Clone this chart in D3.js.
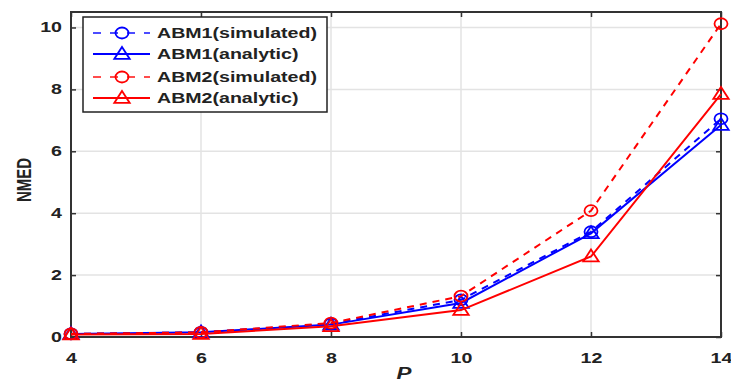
<!DOCTYPE html>
<html><head><meta charset="utf-8">
<script src="https://cdn.jsdelivr.net/npm/d3@7"></script>
<style>body{margin:0;background:#fff}svg{display:block}text{font-family:"Liberation Sans",Arial,sans-serif;font-weight:bold}</style>
</head><body><svg id="c" width="731" height="383"></svg>
<script>
const xValues = [4, 6, 8, 10, 12, 14];
const abm1Sim = [0.10, 0.15, 0.42, 1.20, 3.40, 7.05];
const abm1Ana = [0.10, 0.15, 0.40, 1.10, 3.35, 6.85];
const abm2Sim = [0.10, 0.15, 0.45, 1.32, 4.08, 10.12];
const abm2Ana = [0.08, 0.10, 0.35, 0.87, 2.60, 7.85];
const xTicks = [4, 6, 8, 10, 12, 14];
const yTicks = [0, 2, 4, 6, 8, 10];
const seriesNames = ["ABM1(simulated)", "ABM1(analytic)", "ABM2(simulated)", "ABM2(analytic)"];

const series = [
  {name: seriesNames[0], vals: abm1Sim, color: "#0000ff", dash: "7,6", marker: "circle"},
  {name: seriesNames[1], vals: abm1Ana, color: "#0000ff", dash: null, marker: "triangle"},
  {name: seriesNames[2], vals: abm2Sim, color: "#ff0000", dash: "7,6", marker: "circle"},
  {name: seriesNames[3], vals: abm2Ana, color: "#ff0000", dash: null, marker: "triangle"}
];

const SX = 1.4; // horizontal stretch of the text in the reference
const svg = d3.select("#c");
const L = 71, R = 721, T = 12, B = 337;
const x = d3.scaleLinear().domain([4, 14]).range([L, R]);
const y = d3.scaleLinear().domain([0, 10.5]).range([B, T]);

// grid
svg.append("g").selectAll("line").data(xTicks).join("line")
  .attr("x1", d => x(d)).attr("x2", d => x(d)).attr("y1", T).attr("y2", B)
  .attr("stroke", "#e3e3e3").attr("stroke-width", 1.5);
svg.append("g").selectAll("line").data(yTicks).join("line")
  .attr("x1", L).attr("x2", R).attr("y1", d => y(d)).attr("y2", d => y(d))
  .attr("stroke", "#e3e3e3").attr("stroke-width", 1.5);

// axes
const gx = svg.append("g").attr("transform", `translate(0,${B})`)
  .call(d3.axisBottom(x).tickValues(xTicks).tickSize(-5).tickPadding(16).tickFormat(d3.format("d")));
const gy = svg.append("g").attr("transform", `translate(${L},0)`)
  .call(d3.axisLeft(y).tickValues(yTicks).tickSize(-5).tickPadding(9).tickFormat(d3.format("d")));
const gxt = svg.append("g").attr("transform", `translate(0,${T})`)
  .call(d3.axisTop(x).tickValues(xTicks).tickSize(-5).tickFormat(""));
const gyr = svg.append("g").attr("transform", `translate(${R},0)`)
  .call(d3.axisRight(y).tickValues(yTicks).tickSize(-5).tickFormat(""));
[gx, gy, gxt, gyr].forEach(g => {
  g.select(".domain").remove();
  g.selectAll(".tick line").attr("stroke", "#333").attr("stroke-width", 1.5);
  g.selectAll("text").attr("font-size", 14).attr("fill", "#222").attr("font-weight", "bold");
});
gx.selectAll("text").attr("transform", `scale(${SX},1)`);
gy.selectAll("text").attr("x", -9 / SX).attr("transform", `scale(${SX},1)`);
svg.append("rect").attr("x", L).attr("y", T).attr("width", R - L).attr("height", B - T)
  .attr("fill", "none").attr("stroke", "#333").attr("stroke-width", 2);

// labels
svg.append("text").attr("transform", `translate(31,180) scale(${SX},1) rotate(-90)`).attr("text-anchor", "middle")
  .attr("font-size", 15).attr("fill", "#222").text("NMED");
svg.append("text").attr("transform", `translate(404,379) scale(${SX},1)`).attr("text-anchor", "middle")
  .attr("font-size", 16).attr("font-style", "italic").attr("fill", "#222").text("P");

function drawMarker(g, type, cx, cy, color) {
  if (type === "circle") {
    g.append("ellipse").attr("cx", cx).attr("cy", cy).attr("rx", 6.5).attr("ry", 5.5)
      .attr("fill", "none").attr("stroke", color).attr("stroke-width", 1.8);
  } else {
    const s = 7;
    g.append("path").attr("d", `M${cx},${cy - s}L${cx + s * 1.1},${cy + s * 0.7}L${cx - s * 1.1},${cy + s * 0.7}Z`)
      .attr("fill", "none").attr("stroke", color).attr("stroke-width", 1.8);
  }
}

const line = d3.line().x((d, i) => x(xValues[i])).y(d => y(d));
series.forEach(s => {
  const g = svg.append("g");
  g.append("path").attr("d", line(s.vals)).attr("fill", "none").attr("stroke", s.color)
    .attr("stroke-width", 2).attr("stroke-dasharray", s.dash);
  s.vals.forEach((v, i) => drawMarker(g, s.marker, x(xValues[i]), y(v), s.color));
});

// legend
const lg = svg.append("g");
lg.append("rect").attr("x", 83).attr("y", 17).attr("width", 244).attr("height", 95)
  .attr("fill", "#fff").attr("stroke", "#222").attr("stroke-width", 1.5);
const rowY = [33, 54, 77, 98];
series.forEach((s, i) => {
  const yy = rowY[i];
  lg.append("line").attr("x1", 93).attr("x2", 150).attr("y1", yy).attr("y2", yy)
    .attr("stroke", s.color).attr("stroke-width", 2).attr("stroke-dasharray", s.dash ? "8,9" : null)
    .attr("stroke-opacity", s.dash ? 0.7 : 1);
  drawMarker(lg, s.marker, 122, yy, s.color);
  lg.append("text").attr("transform", `translate(157,${yy + 5}) scale(${SX},1)`)
    .attr("font-size", 14).attr("fill", "#222").text(s.name);
});
</script></body></html>
